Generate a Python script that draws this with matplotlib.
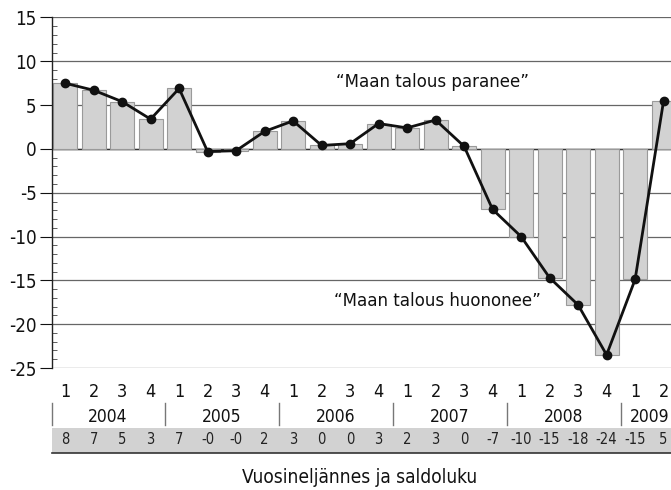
import matplotlib
matplotlib.use("Agg")
import matplotlib.pyplot as plt
import matplotlib.transforms as mtransforms
from matplotlib.ticker import MultipleLocator

plt.rcParams['font.family'] = ['DejaVu Sans']
plt.rcParams['font.stretch'] = 'condensed'

# ---- data ----
quarters = ["1", "2", "3", "4"] * 5 + ["1", "2"]
years = ["2004", "2005", "2006", "2007", "2008", "2009"]
year_quarter_counts = [4, 4, 4, 4, 4, 2]
values = [7.5, 6.7, 5.4, 3.4, 6.9, -0.3, -0.2, 2.0, 3.2, 0.4, 0.6, 2.9,
          2.4, 3.3, 0.3, -6.9, -10.0, -14.7, -17.8, -23.5, -14.9, 5.5]
table_labels = ["8", "7", "5", "3", "7", "-0", "-0", "2", "3", "0", "0", "3",
                "2", "3", "0", "-7", "-10", "-15", "-18", "-24", "-15", "5"]
label_up = "\u201cMaan talous paranee\u201d"
label_down = "\u201cMaan talous huononee\u201d"
xlabel = "Vuosineljännes ja saldoluku"

W, H = 671, 490
fig = plt.figure(figsize=(W / 100, H / 100), dpi=100)
left_px, right_px, top_px, bot_px = 52, 671, 17.5, 368
ax = fig.add_axes([left_px / W, 1 - bot_px / H, (right_px - left_px) / W, (bot_px - top_px) / H])

x = list(range(len(values)))
ax.bar(x, values, width=0.84, color="#d2d2d2", edgecolor="#9a9a9a", linewidth=0.8, zorder=2)
ax.plot(x, values, color="#111111", linewidth=2.0, marker="o", markersize=6, zorder=4)

ax.set_xlim(-0.46, 21.26)
ax.set_ylim(-25, 15)
ax.yaxis.set_major_locator(MultipleLocator(5))
ax.yaxis.set_minor_locator(MultipleLocator(1))
ax.yaxis.grid(True, which="major", color="#666666", linewidth=0.9, zorder=1)
ax.set_axisbelow(True)
for s in ["right", "top", "bottom"]:
    ax.spines[s].set_visible(False)
ax.spines["left"].set_color("#222222")
ax.spines["left"].set_linewidth(1.0)
ax.tick_params(axis="y", which="major", direction="out", length=9, width=0.8,
               labelsize=13.5, pad=2, colors="#111111")
ax.tick_params(axis="y", which="minor", direction="in", length=3.5, width=0.6, colors="#444444")
ax.set_yticks([15, 10, 5, 0, -5, -10, -15, -20, -25])
ax.set_yticklabels(["15", "10", "5", "0", "-5", "-10", "-15", "-20", "-25"])
ax.axhline(0, color="#333333", linewidth=1.0, zorder=1.5)

ax.set_xticks(x)
ax.set_xticklabels(quarters, fontsize=13)
ax.tick_params(axis="x", length=0, pad=11, colors="#111111")

ax.text(12.9, 7.6, label_up, fontsize=13.3, ha="center", va="center", color="#111111")
ax.text(13.05, -17.3, label_down, fontsize=13.3, ha="center", va="center", color="#111111", zorder=5)

ah = bot_px - top_px
def ay(px):
    return (bot_px - px) / ah

trans = mtransforms.blended_transform_factory(ax.transData, ax.transAxes)

start = 0
for yr, n in zip(years, year_quarter_counts):
    center = start + (n - 1) / 2
    ax.text(center, ay(417), yr, transform=trans, fontsize=12.5, ha="center", va="center",
            clip_on=False, color="#111111")
    sep = start - 0.5 if start > 0 else -0.46
    ax.plot([sep, sep], [ay(403), ay(425)], transform=trans, color="#777777",
            linewidth=1.0, clip_on=False)
    start += n

band = plt.Rectangle((-0.46, ay(453)), 21.72, ay(428) - ay(453), transform=trans,
                     facecolor="#d2d2d2", edgecolor="none", clip_on=False, zorder=1)
ax.add_patch(band)
ax.plot([-0.46, 21.26], [ay(453), ay(453)], transform=trans, color="#333333",
        linewidth=1.2, clip_on=False)
for xi, lab in zip(x, table_labels):
    ax.text(xi, ay(439), lab, transform=trans, fontsize=10.5, ha="center", va="center",
            clip_on=False, color="#222222")

fig.text(360 / W, 1 - 477 / H, xlabel, fontsize=13.7, ha="center", va="center", color="#111111")

fig.savefig("out.png", dpi=100, facecolor="white")
